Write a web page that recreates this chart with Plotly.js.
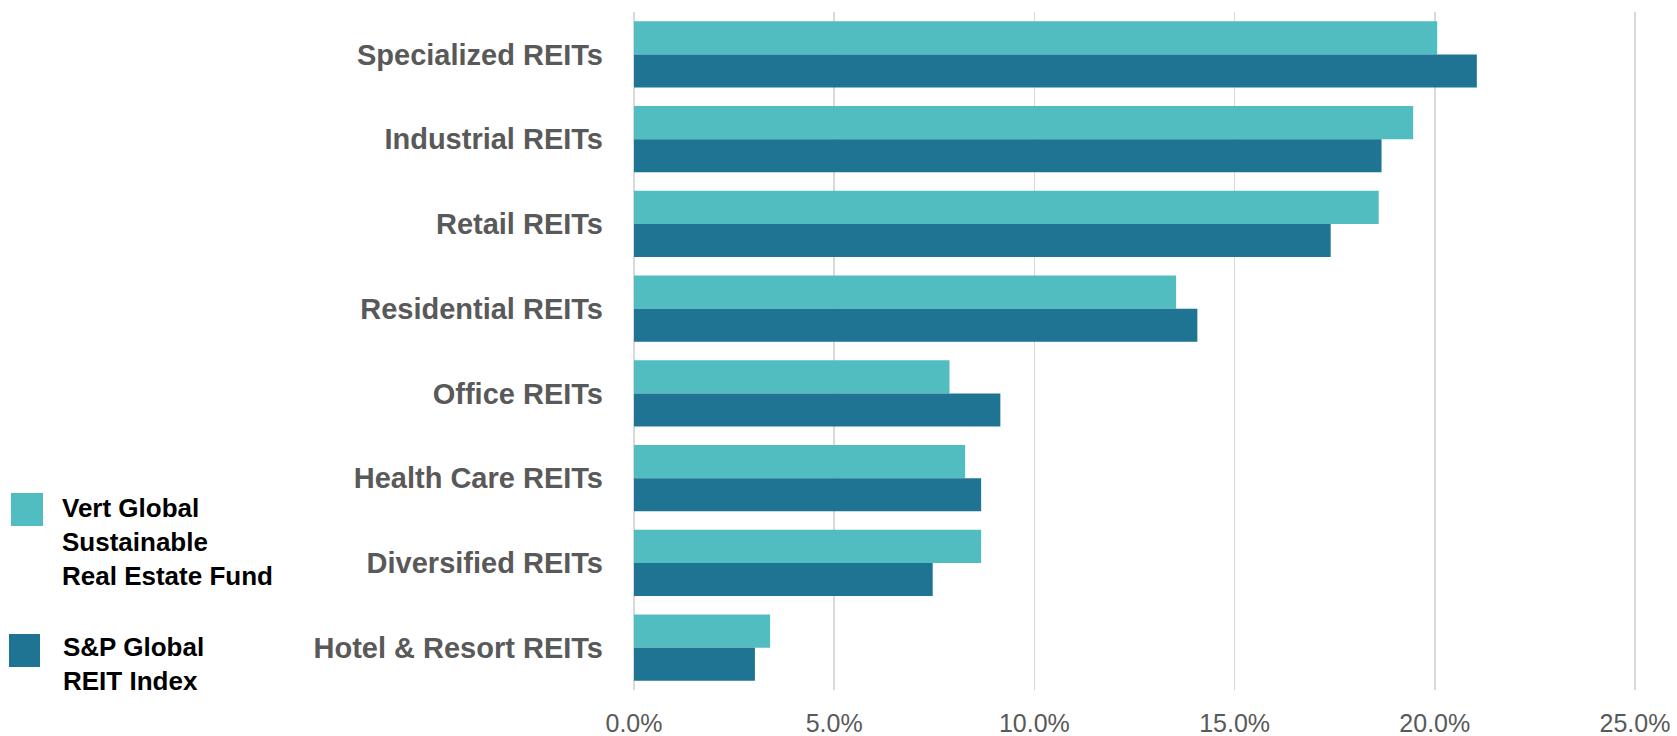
<!DOCTYPE html>
<html>
<head>
<meta charset="utf-8">
<script src="https://cdn.plot.ly/plotly-3.0.1.min.js"></script>
<style>html,body{margin:0;padding:0;background:#fff;}#chart{width:1677px;height:736px;}</style>
</head>
<body>
<div id="chart"></div>
<script>
const categories = ["Specialized REITs","Industrial REITs","Retail REITs","Residential REITs","Office REITs","Health Care REITs","Diversified REITs","Hotel & Resort REITs"];
const vertValues = [20.06, 19.46, 18.60, 13.54, 7.88, 8.27, 8.67, 3.40];
const spValues   = [21.05, 18.67, 17.40, 14.07, 9.15, 8.67, 7.46, 3.02];
const seriesNames = ["Vert Global<br>Sustainable<br>Real Estate Fund", "S&P Global<br>REIT Index"];
const seriesColors = ["#52BDC1", "#1F7493"];
const tickVals = [0, 5, 10, 15, 20, 25];
const tickText = tickVals.map(v => v.toFixed(1) + "%");

const W = 1677, H = 736;
const xMax = 25.25;
const pxPerUnit = 1001 / 25;
const M = {l: 634, t: 12, b: 46};
M.r = Math.round(W - M.l - pxPerUnit * xMax);
const PW = W - M.l - M.r, PH = H - M.t - M.b;
const px = x => (x - M.l) / PW;
const py = y => (H - M.b - y) / PH;

const traces = [
  {type: "bar", orientation: "h", y: categories, x: vertValues, name: "Vert", marker: {color: seriesColors[0]}, hoverinfo: "x+y"},
  {type: "bar", orientation: "h", y: categories, x: spValues, name: "S&P", marker: {color: seriesColors[1]}, hoverinfo: "x+y"}
];

const font = "Liberation Sans, Arial, sans-serif";

const layout = {
  width: W, height: H,
  margin: M,
  paper_bgcolor: "#ffffff", plot_bgcolor: "#ffffff",
  barmode: "group", bargap: 0.22, bargroupgap: 0,
  showlegend: false,
  xaxis: {
    range: [0, xMax], tickmode: "array", tickvals: tickVals, ticktext: tickText,
    showgrid: true, gridcolor: "#d9d9d9", gridwidth: 1.5,
    zeroline: true, zerolinecolor: "#d9d9d9", zerolinewidth: 1.5,
    showline: false, ticks: "", ticklabelstandoff: 16,
    tickfont: {family: font, size: 25, color: "#595959"}
  },
  yaxis: {
    autorange: "reversed", showgrid: false, zeroline: false, showline: false, ticks: "",
    ticklabelstandoff: 30,
    tickfont: {family: font, size: 29, color: "#595959", weight: "bold"}
  },
  shapes: [
    {type: "rect", xref: "paper", yref: "paper", x0: px(11), x1: px(43), y0: py(526), y1: py(493), fillcolor: seriesColors[0], line: {width: 0}},
    {type: "rect", xref: "paper", yref: "paper", x0: px(9), x1: px(40), y0: py(667), y1: py(634), fillcolor: seriesColors[1], line: {width: 0}}
  ],
  annotations: [
    {xref: "paper", yref: "paper", x: px(60), y: py(542), xanchor: "left", yanchor: "middle", align: "left", showarrow: false,
     text: seriesNames[0], font: {family: font, size: 26, color: "#000000", weight: "bold"}},
    {xref: "paper", yref: "paper", x: px(61), y: py(664), xanchor: "left", yanchor: "middle", align: "left", showarrow: false,
     text: seriesNames[1], font: {family: font, size: 26, color: "#000000", weight: "bold"}}
  ]
};

Plotly.newPlot("chart", traces, layout, {displayModeBar: false, staticPlot: true});
</script>
</body>
</html>
